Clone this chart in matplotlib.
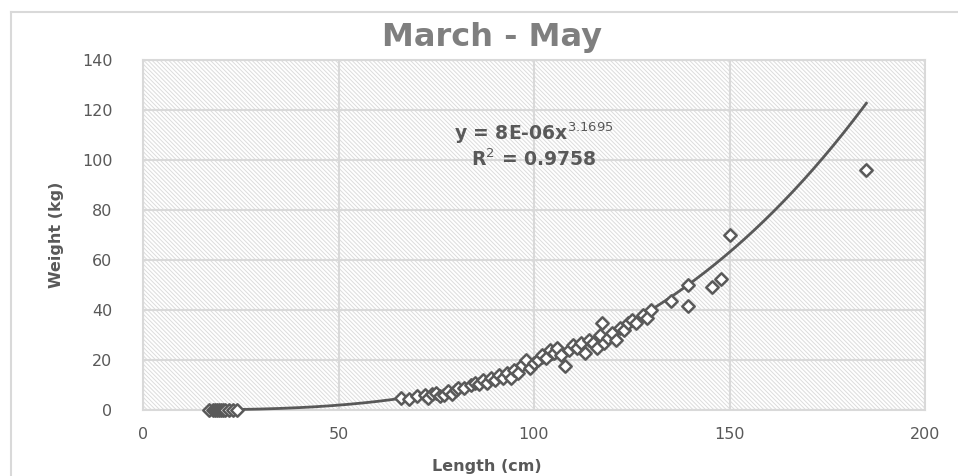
import matplotlib
matplotlib.use("Agg")
import matplotlib.pyplot as plt
import numpy as np
from matplotlib.lines import Line2D

plt.rcParams["font.family"] = ["DejaVu Sans"]
plt.rcParams["hatch.color"] = "#dcdcdc"
plt.rcParams["hatch.linewidth"] = 0.7

GRAY = "#595959"
GRID = "#d9d9d9"

# length (cm) / weight (kg) observations
length_cm = [17, 18, 18.5, 19, 19.5, 20, 20.5, 21, 22, 23, 24,
             66, 68, 70, 72, 73, 74, 75, 76, 77, 78, 79, 80, 80.5, 82,
             84, 85, 86, 87, 88, 89, 90, 91, 92, 93, 94, 95, 96, 97, 98,
             99, 100, 101, 102, 103, 104, 105, 106, 107, 108, 109, 110,
             111, 112, 113, 114, 115, 116, 117, 117.5, 118, 119, 120, 121,
             122, 123, 124, 125, 126, 128, 129, 130, 135, 139.5, 139.5,
             145.5, 147.7, 150, 185]
weight_kg = [0.1, 0.1, 0.1, 0.1, 0.1, 0.1, 0.1, 0.1, 0.1, 0.2, 0.2,
             5, 4.5, 5.5, 6, 5, 6.5, 7, 5.5, 6, 7.5, 6.5, 8, 9, 9,
             10, 11, 10.5, 12, 11, 13, 12, 14, 13, 15, 13, 16, 15, 18, 20,
             17, 19, 20, 22, 21, 24, 23, 25, 22, 17.6, 24, 26,
             25, 27, 23, 28, 27, 25, 30, 34.8, 27, 29, 31, 28,
             33, 32, 35, 36, 35, 38, 37, 40, 43.5, 50, 41.6,
             49.2, 52.4, 70, 96]

# power trendline y = a * x^b
fit_a = 8e-06
fit_b = 3.1695
fit_r2 = 0.9758
fit_x = np.linspace(17, 185, 200)
fit_y = fit_a * fit_x ** fit_b

fig = plt.figure(figsize=(9.58, 4.76), dpi=100)
W, H = 958, 476
ax = fig.add_axes([143 / W, 1 - 410 / H, (925 - 143) / W, (410 - 60) / H])

# chart frame (top and left edges)
fig.add_artist(Line2D([11 / W, 1], [1 - 12 / H, 1 - 12 / H], color=GRID, lw=1.5))
fig.add_artist(Line2D([11 / W, 11 / W], [1 - 12 / H, 0], color=GRID, lw=1.5))

ax.set_facecolor("white")
ax.add_patch(plt.Rectangle((0, 0), 1, 1, transform=ax.transAxes, facecolor="white",
                           hatch="\\" * 8, edgecolor="#dcdcdc", lw=0, zorder=0))
ax.set_xlim(0, 200)
ax.set_ylim(0, 140)
ax.set_xticks(np.arange(0, 201, 50))
ax.set_yticks(np.arange(0, 141, 20))
ax.grid(True, color=GRID, lw=1.5, zorder=1)
ax.set_axisbelow(True)
for s in ax.spines.values():
    s.set_color(GRID)
    s.set_linewidth(1.5)
ax.tick_params(length=0, colors=GRAY, labelsize=11.5)
ax.tick_params(axis="x", pad=12)
ax.tick_params(axis="y", pad=22)

ax.plot(fit_x, fit_y, color=GRAY, lw=2, zorder=3, clip_on=False)
ax.scatter(length_cm, weight_kg, marker="D", s=40, facecolor="white",
           edgecolor=GRAY, linewidths=1.8, zorder=4, clip_on=False)

ax.text(100, 110.5, r"y = 8E-06x$^{3.1695}$", ha="center", va="center",
        fontsize=13.5, fontweight="bold", color=GRAY)
ax.text(100, 100.5, r"R$^{2}$ = " + f"{fit_r2}", ha="center", va="center",
        fontsize=13.5, fontweight="bold", color=GRAY)

fig.text(492 / W, 1 - 38 / H, "March - May", ha="center", va="center",
         fontsize=23, fontweight="bold", color="#7f7f7f")
fig.text(487 / W, 1 - 466 / H, "Length (cm)", ha="center", va="center",
         fontsize=11.5, fontweight="bold", color=GRAY)
fig.text(56 / W, 1 - 235 / H, "Weight (kg)", ha="center", va="center",
         rotation=90, fontsize=11.5, fontweight="bold", color=GRAY)

fig.savefig("out.png", dpi=100)
